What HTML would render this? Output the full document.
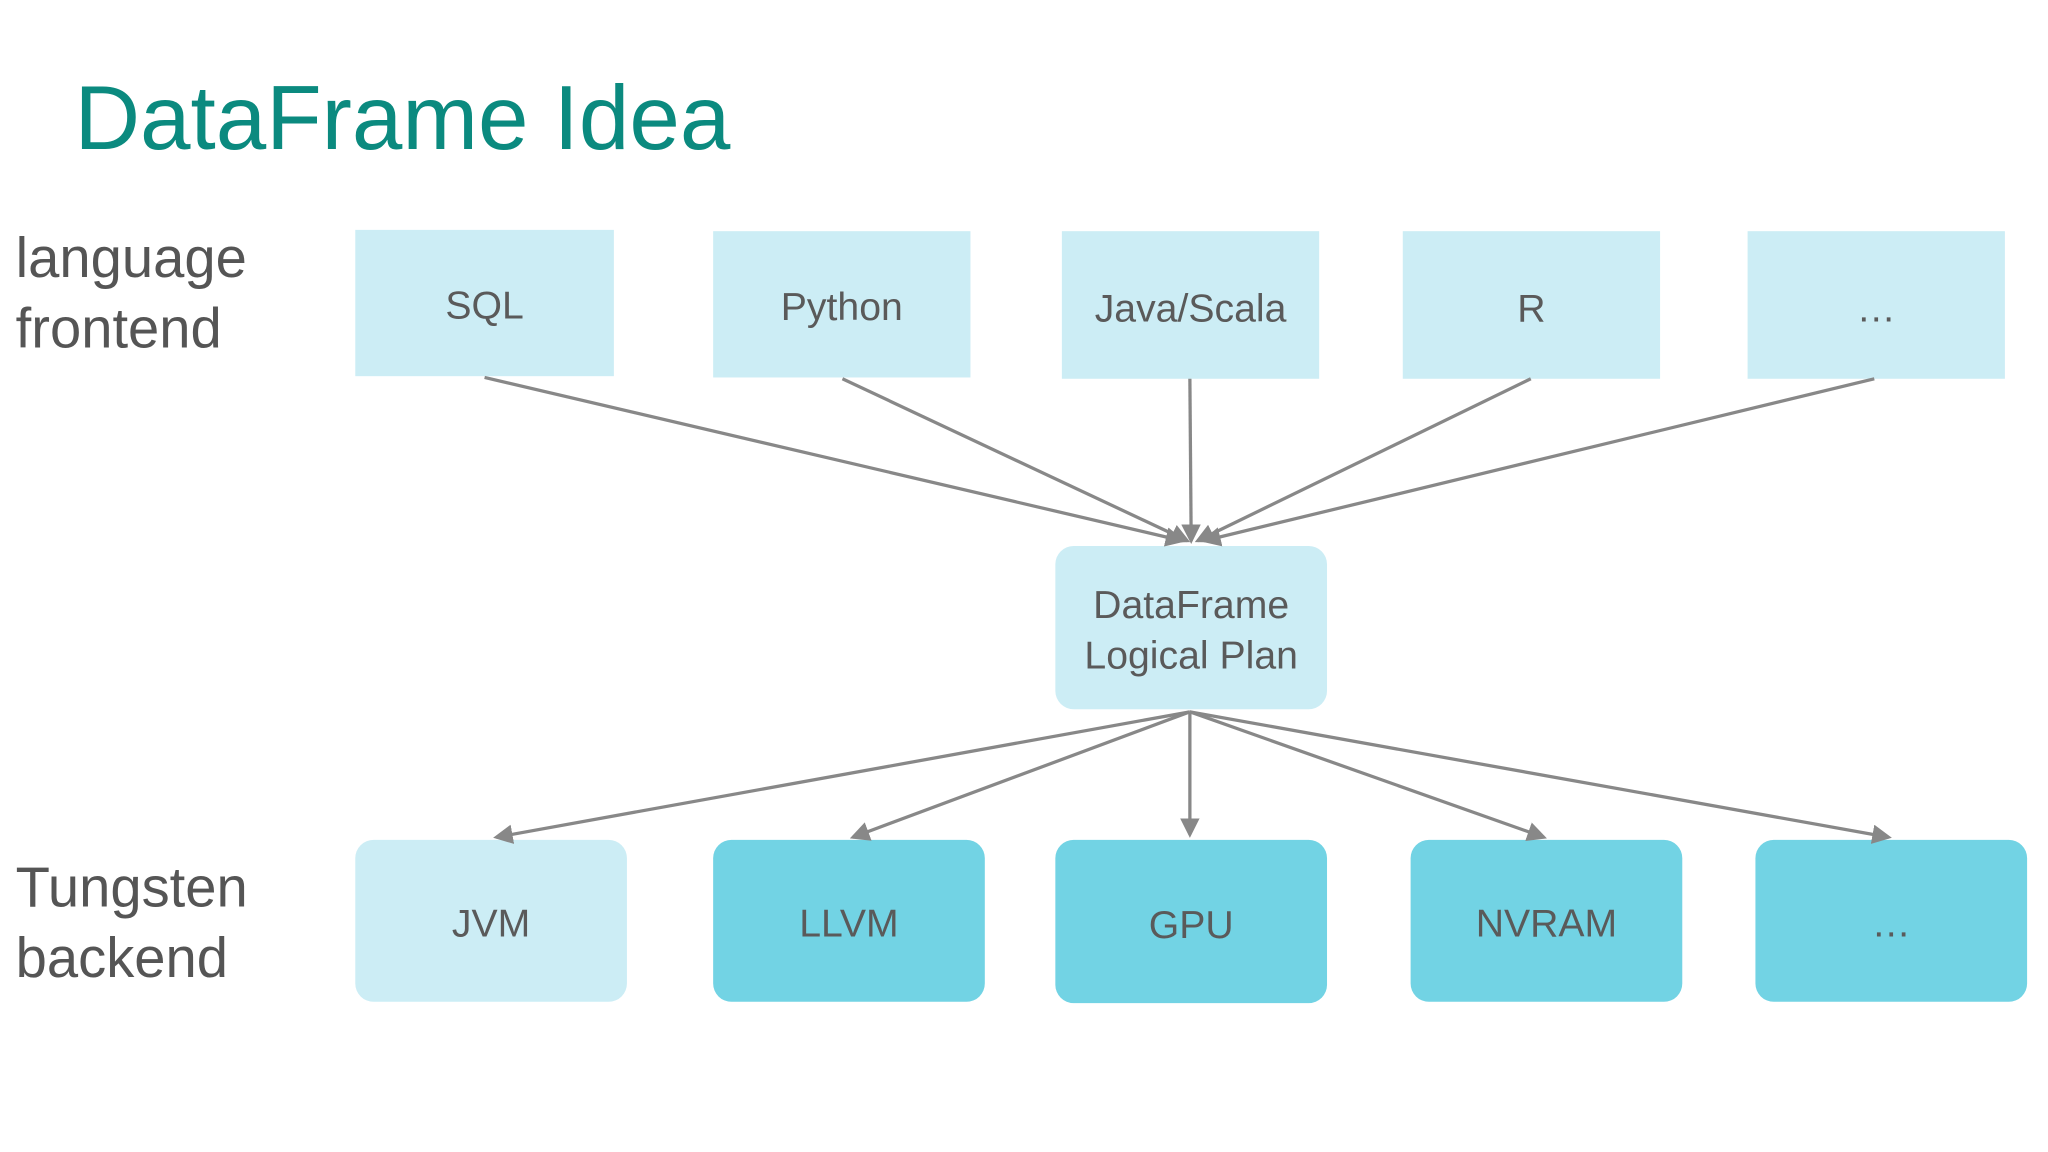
<!DOCTYPE html>
<html><head><meta charset="utf-8"><style>
html,body{margin:0;padding:0;background:#fff;width:2048px;height:1152px;overflow:hidden}
#w{position:absolute;left:0;top:0;width:1568px;height:882px;transform:scale(1.30612,1.30612);transform-origin:0 0;font-family:"Liberation Sans",sans-serif}
.t{position:absolute;left:57px;top:50px;font-size:69.5px;color:#0b8a7f;white-space:nowrap}
.l{position:absolute;font-size:43px;color:#555;line-height:54px}
.b{position:absolute;display:flex;align-items:center;justify-content:center;color:#5a5a5a;font-size:30px;text-align:center;line-height:39px;padding-top:5px;box-sizing:border-box}
.tp{background:#ccedf5}
.r{border-radius:14px}
.d{background:#72d3e4}
</style></head><body><div id="w">
<div class="t">DataFrame Idea</div>
<div class="l" style="left:12px;top:171px">language<br>frontend</div>
<div class="l" style="left:12px;top:653px">Tungsten<br>backend</div>
<div class="b tp" style="left:272px;top:176px;width:198px;height:112px">SQL</div>
<div class="b tp" style="left:546px;top:177px;width:197px;height:112px">Python</div>
<div class="b tp" style="left:813px;top:177px;width:197px;height:113px">Java/Scala</div>
<div class="b tp" style="left:1074px;top:177px;width:197px;height:113px">R</div>
<div class="b tp" style="left:1338px;top:177px;width:197px;height:113px">…</div>
<div class="b tp r" style="left:808px;top:418px;width:208px;height:125px">DataFrame<br>Logical Plan</div>
<div class="b tp r" style="left:272px;top:643px;width:208px;height:124px">JVM</div>
<div class="b d r" style="left:546px;top:643px;width:208px;height:124px">LLVM</div>
<div class="b d r" style="left:808px;top:643px;width:208px;height:125px">GPU</div>
<div class="b d r" style="left:1080px;top:643px;width:208px;height:124px">NVRAM</div>
<div class="b d r" style="left:1344px;top:643px;width:208px;height:124px">…</div>
<svg width="1568" height="882" style="position:absolute;left:0;top:0">
<defs><marker id="a" markerWidth="6" markerHeight="6" refX="5" refY="3" orient="auto" markerUnits="strokeWidth"><path d="M0,0L6,3L0,6z" fill="#888"/></marker></defs>
<g stroke="#888" stroke-width="2.5" fill="none" marker-end="url(#a)">
<line x1="371" y1="289" x2="905" y2="414"/>
<line x1="645" y1="290" x2="909" y2="414"/>
<line x1="911" y1="290" x2="912" y2="414"/>
<line x1="1172" y1="290" x2="917" y2="414"/>
<line x1="1435" y1="290" x2="922" y2="414"/>
<line x1="911" y1="545" x2="380" y2="641"/>
<line x1="911" y1="545" x2="653" y2="641"/>
<line x1="911" y1="545" x2="911" y2="639"/>
<line x1="911" y1="545" x2="1182" y2="641"/>
<line x1="911" y1="545" x2="1446" y2="641"/>
</g></svg>
</div></body></html>
